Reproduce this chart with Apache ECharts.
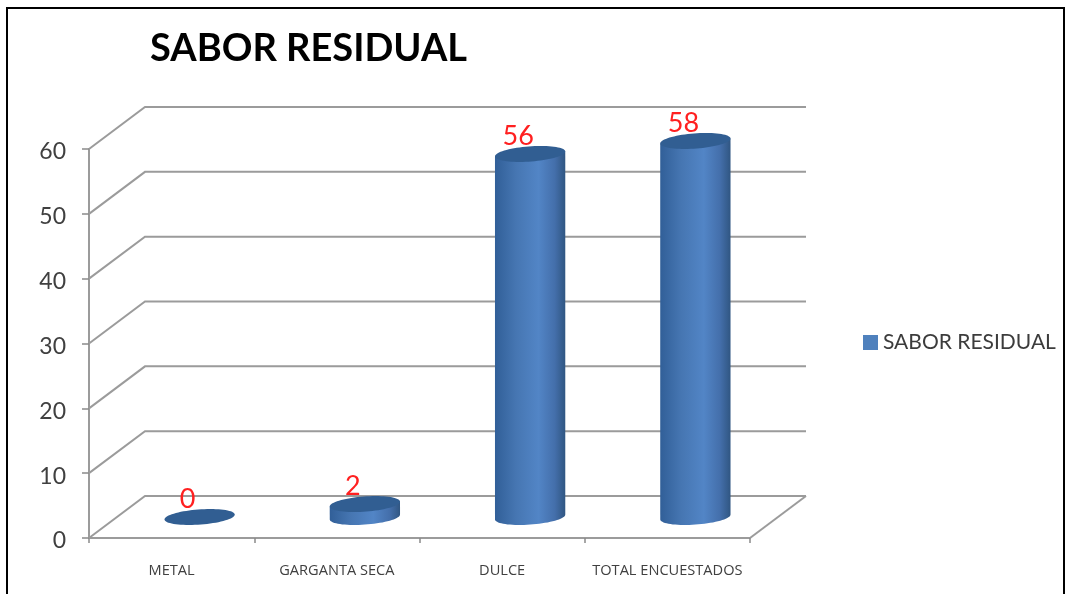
<!DOCTYPE html>
<html>
<head>
<meta charset="utf-8">
<style>html,body{margin:0;padding:0;background:#fff}#c{width:1065px;height:594px;filter:blur(0.45px)}</style>
<script src="https://cdn.jsdelivr.net/npm/echarts@6/dist/echarts.min.js"></script>
</head>
<body>
<div id="c"></div>
<script>
const chartTitle = 'SABOR RESIDUAL';
const seriesName = 'SABOR RESIDUAL';
const categories = ['METAL', 'GARGANTA SECA', 'DULCE', 'TOTAL ENCUESTADOS'];
const values = [0, 2, 56, 58];
const yTicks = [0, 10, 20, 30, 40, 50, 60];

const DEPTH_X = 56, DEPTH_Y = -42;
const RADIUS_X = 33.5, CAP_K = 0.38;
const FONT = 'Lato, "Open Sans", sans-serif';

function wallRender(params, api) {
  const cs = params.coordSys;
  const y = api.coord([0, api.value(0)])[1];
  const x0 = cs.x, x1 = cs.x + cs.width;
  const isZero = api.value(0) === 0;
  const children = [{
    type: 'polyline',
    shape: { points: [[x0, y], [x0 + DEPTH_X, y + DEPTH_Y], [x1 + DEPTH_X, y + DEPTH_Y]] },
    style: { stroke: '#9b9b9b', lineWidth: 2, fill: null }
  }];
  if (isZero) {
    children.push({
      type: 'line',
      shape: { x1: x1, y1: y, x2: x1 + DEPTH_X, y2: y + DEPTH_Y },
      style: { stroke: '#9b9b9b', lineWidth: 2 }
    });
  }
  return { type: 'group', children };
}

function ringPoint(cx, cy, t) {
  const dx = DEPTH_X / 2 * CAP_K, dy = DEPTH_Y / 2 * CAP_K;
  return [cx + Math.cos(t) * RADIUS_X + Math.sin(t) * dx, cy + Math.sin(t) * dy];
}

function cylinderRender(params, api) {
  const v = api.value(1);
  const base = api.coord([api.value(0), 0]);
  const top = api.coord([api.value(0), v]);
  const cx = base[0] + DEPTH_X / 2;
  const by = base[1] + DEPTH_Y / 2;
  const ty = top[1] + DEPTH_Y / 2;
  const tr = Math.atan2(DEPTH_X / 2 * CAP_K, RADIUS_X);
  const cap = [];
  for (let i = 0; i < 72; i++) cap.push(ringPoint(cx, ty, i / 72 * Math.PI * 2));
  const body = [ringPoint(cx, ty, tr + Math.PI), ringPoint(cx, ty, tr)];
  for (let i = 0; i <= 36; i++) body.push(ringPoint(cx, by, tr - i / 36 * Math.PI));
  const children = [];
  if (v > 0) {
    children.push({
      type: 'polygon',
      shape: { points: body },
      style: {
        fill: new echarts.graphic.LinearGradient(0, 0, 1, 0, [
          { offset: 0, color: '#315f98' },
          { offset: 0.3, color: '#4676b2' },
          { offset: 0.62, color: '#5285c6' },
          { offset: 0.85, color: '#446fab' },
          { offset: 1, color: '#305682' }
        ])
      }
    });
  }
  children.push({
    type: 'polygon',
    shape: { points: cap },
    style: { fill: '#315e92' }
  });
  children.push({
    type: 'text',
    style: {
      text: String(v), x: cx - 12, y: ty - 18,
      align: 'center', verticalAlign: 'middle',
      fill: '#ff2020', fontSize: 27, fontFamily: FONT
    }
  });
  return { type: 'group', children };
}

const chart = echarts.init(document.getElementById('c'), null, { renderer: 'canvas' });
chart.setOption({
  animation: false,
  backgroundColor: '#ffffff',
  title: {
    text: chartTitle, left: 145, top: 25,
    textStyle: { fontSize: 38, fontWeight: 'bold', color: '#000', fontFamily: FONT }
  },
  legend: {
    data: [seriesName], left: 858, top: 327, icon: 'rect',
    itemWidth: 15, itemHeight: 15, itemGap: 4,
    textStyle: { fontSize: 21, color: '#3c3c3c', fontFamily: FONT }
  },
  grid: { left: 89, top: 149, width: 661, height: 389 },
  xAxis: {
    type: 'category', data: categories,
    axisLine: { lineStyle: { color: '#9b9b9b', width: 2 } },
    axisTick: { show: true, alignWithLabel: false, length: 5, lineStyle: { color: '#8a8a8a', width: 1.5 } },
    axisLabel: { color: '#404040', fontSize: 14.6, fontFamily: '"Open Sans", sans-serif', margin: 25, interval: 0 }
  },
  yAxis: {
    type: 'value', min: 0, max: 60, interval: 10,
    axisLine: { show: true, lineStyle: { color: '#9b9b9b', width: 2 } },
    axisTick: { show: true, length: 7, lineStyle: { color: '#8a8a8a', width: 1.5 } },
    axisLabel: {
      margin: 23,
      formatter: '{n|{value}}',
      rich: { n: { color: '#404040', fontSize: 23, fontFamily: FONT, padding: [6, 0, 0, 0] } }
    },
    splitLine: { show: false }
  },
  graphic: [{
    type: 'rect', silent: true, z: -1,
    shape: { x: 7, y: 8, width: 1057, height: 600 },
    style: { fill: null, stroke: '#000', lineWidth: 2 }
  }],
  series: [
    {
      name: 'wall', type: 'custom', renderItem: wallRender, z: 1, clip: false, silent: true,
      data: yTicks.map(t => [t]), encode: { y: 0 }
    },
    {
      name: seriesName, type: 'custom', renderItem: cylinderRender, z: 3, clip: false,
      itemStyle: { color: '#4f81bd' },
      data: values.map((v, i) => [i, v]), encode: { x: 0, y: 1 }
    }
  ]
});
</script>
</body>
</html>
